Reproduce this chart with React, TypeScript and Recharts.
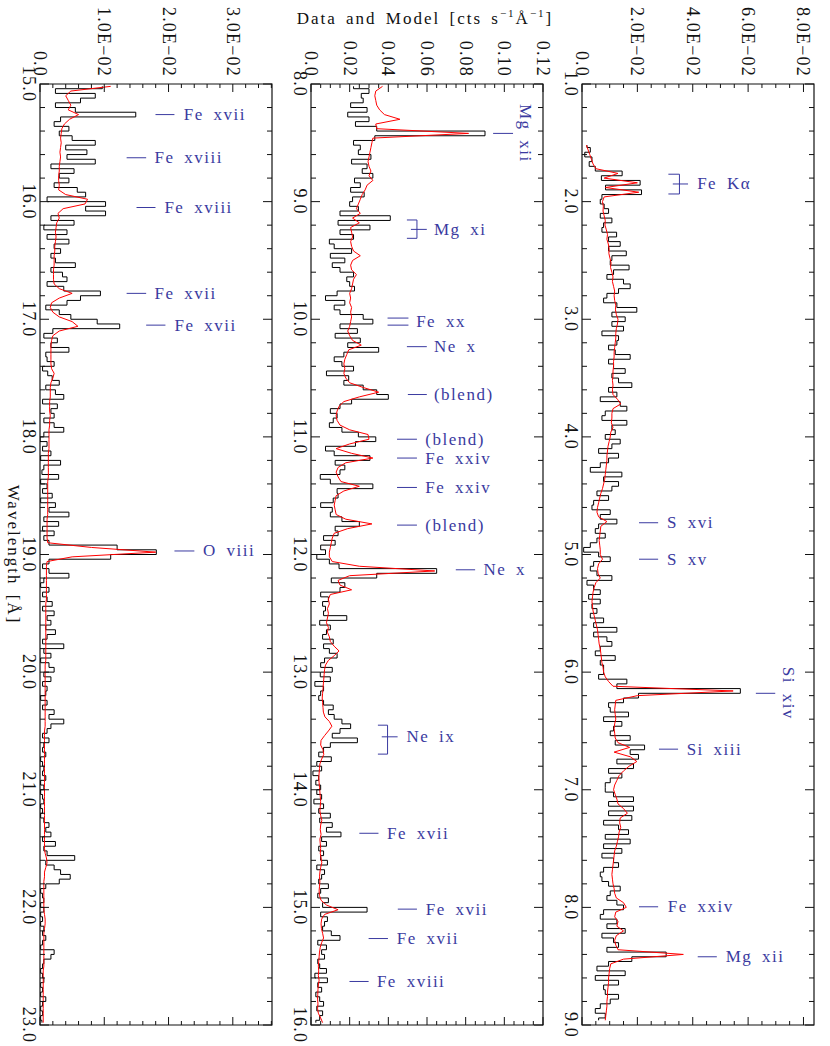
import React from "react";
import {
  LineChart,
  Line,
  XAxis,
  YAxis,
  ReferenceLine,
  ReferenceDot,
  ReferenceArea,
} from "recharts";

const FONT = "'Liberation Serif', 'Times New Roman', serif";
const BLUE = "#3a3aa0";
const INK = "#111";
const BIN = 0.04;
const CHART_W = 1046;
const CHART_H = 278;
const PLOT_W = 941;
const PLOT_H = 232;

// flux values in units of 1e-4 cts/s/A, one per 0.04 A bin (first centre given)
const p1Start = 1.52;
const p1Data = [
  18, 30, 10, 36, 26, 48, 145, 70, 210, 85, 215, 72,
  66, 80, 96, 66, 108, 78, 72, 125, 96, 138, 96, 160, 108, 102, 170, 114, 90, 150, 174, 132, 90, 78, 126, 198, 108,
  156, 108, 150, 72, 132, 126, 96, 120, 174, 96, 114, 156, 108, 132, 180, 96, 126, 66, 138, 162, 84, 72, 162, 108, 120,
  84, 138, 108, 60, 132, 96, 66, 30, 144, 78, 132, 108, 54, 96, 42, 36, 102, 66, 126, 60, 48, 84, 54, 30, 6,
  60, 102, 42, 30, 54, 108, 18, 42, 66, 24, 66, 36, 54, 30, 78, 42, 126, 42, 90, 108, 66, 48, 120, 66, 78,
  78, 60, 162, 126, 572, 204, 150, 96, 102, 168, 78, 144, 114, 102, 174, 120, 226, 174, 204, 126, 186, 96, 144, 102, 84,
  84, 114, 186, 96, 186, 96, 180, 78, 132, 168, 84, 174, 78, 144, 72, 114, 132, 78, 66, 72, 96, 138, 102, 90, 126,
  150, 78, 66, 126, 90, 156, 72, 114, 132, 90, 304, 180, 96, 54, 156, 48, 132, 78, 84, 132, 102, 66, 48, 84, 60,
];
const p1Model = [
  16, 22, 28, 34, 40, 50, 130, 80, 200, 85, 205, 80,
  74, 77, 76, 80, 84, 83, 88, 92, 90, 95, 98, 97, 101, 105, 103, 108, 112, 110, 114, 118, 116, 118, 122, 121, 124,
  130, 128, 124, 122, 122, 120, 118, 116, 116, 114, 114, 112, 112, 110, 112, 110, 112, 128, 140, 112, 108, 108, 106, 112, 104,
  102, 98, 94, 92, 90, 90, 88, 86, 84, 82, 78, 74, 68, 64, 60, 56, 54, 60, 90, 68, 66, 64, 62, 64, 66,
  66, 74, 60, 56, 58, 66, 50, 44, 40, 38, 36, 38, 40, 44, 48, 52, 56, 58, 60, 62, 66, 68, 70, 72, 76,
  78, 84, 96, 112, 546, 200, 122, 120, 118, 120, 122, 118, 116, 118, 120, 130, 172, 116, 175, 198, 170, 150, 134, 126, 118,
  114, 120, 126, 130, 150, 164, 138, 136, 140, 134, 132, 128, 124, 118, 116, 114, 112, 110, 108, 110, 112, 116, 118, 124, 150,
  160, 122, 118, 130, 126, 150, 124, 118, 122, 130, 366, 150, 104, 100, 98, 96, 96, 94, 92, 92, 90, 90, 88, 86, 84,
];

const p2Start = 8.02;
const p2Data = [
  220, 300, 260, 270, 205, 290, 190, 300, 230, 340, 900, 330, 220, 255, 245, 310, 210, 290, 265, 320, 225, 255, 205, 275, 215,
  200, 245, 150, 410, 140, 305, 150, 220, 95, 120, 210, 100, 175, 110, 150, 220, 185, 200, 225, 135, 75, 175, 120, 150, 270,
  320, 150, 240, 125, 255, 190, 350, 170, 120, 160, 220, 80, 195, 170, 270, 340, 400, 210, 150, 100, 135, 115, 95, 160, 245,
  335, 230, 75, 120, 305, 125, 175, 150, 48, 100, 320, 135, 140, 115, 50, 110, 100, 160, 250, 125, 140, 65, 125, 50, 75,
  30, 95, 145, 650, 340, 105, 175, 150, 50, 90, 60, 75, 65, 185, 45, 100, 80, 60, 115, 65, 95, 135, 70, 50, 110,
  48, 100, 20, 65, 50, 40, 65, 115, 90, 120, 160, 205, 150, 110, 240, 100, 65, 40, 105, 30, 55, 10, 40, 25, 50,
  30, 55, 15, 65, 40, 100, 45, 110, 80, 155, 55, 80, 40, 65, 50, 85, 30, 70, 55, 40, 90, 50, 35, 90, 60,
  290, 50, 85, 70, 60, 105, 150, 35, 80, 55, 70, 35, 45, 80, 20, 85, 35, 55, 25, 45, 65, 30, 60, 45, 25,
];
const p2Model = [
  370, 335, 330, 335, 340, 355, 380, 460, 335, 340, 815, 320, 315, 310, 305, 300, 295, 300, 310, 300, 320, 290, 280, 265, 255,
  245, 235, 255, 215, 250, 205, 210, 215, 205, 210, 220, 255, 215, 205, 210, 235, 220, 215, 210, 200, 205, 200, 210, 205, 210,
  205, 200, 190, 200, 215, 260, 195, 185, 175, 170, 175, 170, 180, 200, 270, 350, 250, 170, 145, 135, 130, 135, 150, 200, 295,
  300, 200, 130, 210, 320, 180, 140, 130, 140, 155, 250, 170, 130, 125, 120, 125, 130, 180, 315, 190, 120, 110, 105, 100, 95,
  95, 110, 250, 640, 200, 140, 150, 210, 100, 90, 95, 85, 90, 85, 80, 90, 85, 95, 100, 120, 145, 120, 90, 75, 70,
  68, 66, 64, 62, 60, 58, 60, 62, 64, 72, 95, 108, 90, 70, 52, 50, 62, 66, 55, 46, 44, 42, 40, 42, 44,
  46, 48, 50, 48, 46, 50, 56, 50, 48, 52, 46, 48, 50, 48, 52, 56, 50, 46, 44, 46, 44, 42, 44, 52, 80,
  140, 70, 55, 52, 54, 60, 65, 55, 48, 44, 42, 40, 38, 40, 38, 42, 38, 36, 35, 34, 36, 34, 38, 50, 60,
];

const p3Start = 15.02;
const p3Data = [
  97, 24, 86, 63, 24, 55, 149, 32, 22, 45, 30, 50, 86, 40, 73, 42, 86, 17, 53, 30, 45, 22, 58, 71, 11,
  102, 71, 102, 17, 53, 6, 42, 11, 45, 22, 32, 17, 24, 55, 17, 35, 42, 11, 37, 94, 63, 42, 9, 30, 48,
  89, 124, 20, 6, 27, 17, 45, 9, 11, 22, 4, 12, 19, 30, 9, 24, 37, 4, 27, 17, 22, 6, 22, 37, 6,
  0, 11, 4, 17, 1, 32, 6, 3, 29, 1, 11, 4, 19, 1, 24, 14, 45, 6, 29, 4, 22, 6, 14, 120, 181,
  110, 14, 4, 14, 45, 6, 1, 14, 4, 11, 19, 4, 22, 11, 17, 9, 24, 11, 4, 37, 6, 17, 1, 14, 22,
  6, 17, 4, 11, 9, 1, 11, 4, 22, 14, 37, 17, 11, 4, 14, 6, 4, 9, 1, 4, 6, 4, 9, 1, 6,
  1, 4, 6, 1, 4, 1, 6, 14, 9, 17, 4, 24, 6, 11, 54, 9, 22, 32, 47, 30, 9, 1, 4, 6, 1,
  6, 1, 4, 1, 6, 4, 9, 4, 1, 22, 17, 6, 4, 1, 4, 6, 1, 4, 1, 9, 4, 1, 4, 1, 3,
];
const p3Model = [
  110, 48, 40, 44, 48, 44, 60, 46, 38, 34, 33, 32, 33, 32, 31, 32, 31, 30, 30, 29, 29, 30, 29, 40, 74,
  70, 36, 28, 30, 26, 25, 24, 25, 24, 23, 23, 22, 22, 22, 21, 21, 21, 22, 30, 50, 30, 18, 16, 20, 30,
  50, 59, 30, 20, 18, 17, 17, 17, 17, 17, 18, 22, 20, 17, 16, 16, 16, 15, 15, 15, 16, 15, 15, 14, 14,
  14, 14, 14, 13, 13, 13, 13, 13, 13, 12, 12, 12, 12, 12, 12, 12, 12, 11, 11, 11, 11, 11, 12, 80, 180,
  50, 11, 10, 10, 10, 10, 10, 10, 10, 10, 9, 9, 9, 9, 9, 9, 9, 9, 9, 9, 9, 9, 9, 8, 8,
  8, 8, 8, 8, 8, 8, 8, 8, 8, 8, 8, 8, 7, 7, 7, 7, 7, 7, 7, 7, 7, 7, 7, 7, 7,
  7, 7, 7, 7, 7, 7, 7, 7, 7, 7, 7, 7, 7, 8, 10, 11, 9, 7, 7, 6, 6, 6, 6, 6, 6,
  6, 7, 8, 8, 7, 6, 6, 6, 6, 6, 6, 6, 6, 5, 5, 5, 5, 5, 5, 5, 5, 5, 5, 5, 5,
];

// tick labels
const p1XMajor = [1, 2, 3, 4, 5, 6, 7, 8, 9];
const p1XText = ["1.0", "2.0", "3.0", "4.0", "5.0", "6.0", "7.0", "8.0", "9.0"];
const p1YMajor = [0, 0.02, 0.04, 0.06, 0.08];
const p1YText = ["0.0", "2.0E\u221202", "4.0E\u221202", "6.0E\u221202", "8.0E\u221202"];

const p2XMajor = [8, 9, 10, 11, 12, 13, 14, 15, 16];
const p2XText = ["8.0", "9.0", "10.0", "11.0", "12.0", "13.0", "14.0", "15.0", "16.0"];
const p2YMajor = [0, 0.02, 0.04, 0.06, 0.08, 0.1, 0.12];
const p2YText = ["0.0", "0.02", "0.04", "0.06", "0.08", "0.10", "0.12"];

const p3XMajor = [15, 16, 17, 18, 19, 20, 21, 22, 23];
const p3XText = ["15.0", "16.0", "17.0", "18.0", "19.0", "20.0", "21.0", "22.0", "23.0"];
const p3YMajor = [0, 0.01, 0.02, 0.03];
const p3YText = ["0.0", "1.0E\u221202", "2.0E\u221202", "3.0E\u221202"];

// line identifications: wavelength(s), marker span and text start in flux units
type Mark = { text: string; ws: number[]; lo: number; hi: number; tx: number; tw?: number };
type Bracket = { text: string; w1: number; w2: number; wm: number; lo: number; hi: number; top: number; tx: number };
type TopMark = { text: string; w: number; lo: number; hi: number; ty: number };

const p1Marks: Mark[] = [
  { text: "S xvi", ws: [4.73], lo: 0.0206, hi: 0.0275, tx: 0.0307 },
  { text: "S xv", ws: [5.04], lo: 0.0206, hi: 0.0275, tx: 0.0307 },
  { text: "Si xiii", ws: [6.655], lo: 0.0278, hi: 0.0347, tx: 0.0378 },
  { text: "Fe xxiv", ws: [7.995], lo: 0.0206, hi: 0.0275, tx: 0.031 },
  { text: "Mg xii", ws: [8.42], lo: 0.0418, hi: 0.0487, tx: 0.0519 },
];
const p1Brackets: Bracket[] = [
  { text: "Fe K\u03b1", w1: 1.767, w2: 1.935, wm: 1.85, lo: 0.0312, hi: 0.0352, top: 0.0383, tx: 0.0416 },
];
const p1Tops: TopMark[] = [{ text: "Si xiv", w: 6.18, lo: 0.0628, hi: 0.0698, ty: 0.0727 }];

const p2Marks: Mark[] = [
  { text: "Fe xx", ws: [9.99, 10.05], lo: 0.0396, hi: 0.0504, tx: 0.0544, tw: 10.02 },
  { text: "Ne x", ws: [10.233], lo: 0.0496, hi: 0.0599, tx: 0.0636 },
  { text: "(blend)", ws: [10.64], lo: 0.0501, hi: 0.0599, tx: 0.0636 },
  { text: "(blend)", ws: [11.02], lo: 0.0445, hi: 0.0548, tx: 0.0591 },
  { text: "Fe xxiv", ws: [11.18], lo: 0.0445, hi: 0.0548, tx: 0.0591 },
  { text: "Fe xxiv", ws: [11.43], lo: 0.0445, hi: 0.0548, tx: 0.0591 },
  { text: "(blend)", ws: [11.75], lo: 0.0445, hi: 0.0548, tx: 0.0591 },
  { text: "Ne x", ws: [12.13], lo: 0.0749, hi: 0.0849, tx: 0.0892 },
  { text: "Fe xvii", ws: [14.37], lo: 0.025, hi: 0.0349, tx: 0.0393 },
  { text: "Fe xvii", ws: [15.015], lo: 0.0449, hi: 0.0548, tx: 0.0594 },
  { text: "Fe xvii", ws: [15.265], lo: 0.0298, hi: 0.0398, tx: 0.0444 },
  { text: "Fe xviii", ws: [15.63], lo: 0.0199, hi: 0.0298, tx: 0.0341 },
];
const p2Brackets: Bracket[] = [
  { text: "Mg xi", w1: 9.156, w2: 9.312, wm: 9.236, lo: 0.0496, hi: 0.0548, top: 0.0599, tx: 0.0636 },
  { text: "Ne ix", w1: 13.451, w2: 13.697, wm: 13.55, lo: 0.0346, hi: 0.0396, top: 0.0448, tx: 0.0494 },
];
const p2Tops: TopMark[] = [{ text: "Mg xii", w: 8.42, lo: 0.0942, hi: 0.1045, ty: 0.1082 }];

const p3Marks: Mark[] = [
  { text: "Fe xvii", ws: [15.26], lo: 0.01797, hi: 0.02092, tx: 0.02236 },
  { text: "Fe xviii", ws: [15.627], lo: 0.01348, hi: 0.01652, tx: 0.01781 },
  { text: "Fe xviii", ws: [16.05], lo: 0.01502, hi: 0.01797, tx: 0.01936 },
  { text: "Fe xvii", ws: [16.78], lo: 0.01348, hi: 0.01652, tx: 0.01781 },
  { text: "Fe xvii", ws: [17.05], lo: 0.01652, hi: 0.01952, tx: 0.02092 },
  { text: "O viii", ws: [18.97], lo: 0.02092, hi: 0.02402, tx: 0.02537 },
];

const buildRows = (start: number, data: number[], model: number[]) =>
  data.map((v, i) => ({ w: +(start + i * BIN).toFixed(2), d: v * 1e-4, m: model[i] * 1e-4 }));

const range = (a: number, b: number, step: number) => {
  const n = Math.floor((b - a) / step + 1e-6) + 1;
  return Array.from({ length: n }, (_, i) => +(a + i * step).toFixed(4));
};

const panels = [
  {
    key: "p1", top: 0, x0: 1, x1: 9, yMax: 0.0838, yStep: 0.005,
    rows: buildRows(p1Start, p1Data, p1Model),
    xMajor: p1XMajor, xText: p1XText, yMajor: p1YMajor, yText: p1YText,
    marks: p1Marks, brackets: p1Brackets, tops: p1Tops,
  },
  {
    key: "p2", top: 271.3, x0: 8, x1: 16, yMax: 0.12, yStep: 0.005,
    rows: buildRows(p2Start, p2Data, p2Model),
    xMajor: p2XMajor, xText: p2XText, yMajor: p2YMajor, yText: p2YText,
    marks: p2Marks, brackets: p2Brackets, tops: p2Tops,
  },
  {
    key: "p3", top: 542.3, x0: 15, x1: 23, yMax: 0.0361, yStep: 0.002,
    rows: buildRows(p3Start, p3Data, p3Model),
    xMajor: p3XMajor, xText: p3XText, yMajor: p3YMajor, yText: p3YText,
    marks: p3Marks, brackets: [] as Bracket[], tops: [] as TopMark[],
  },
];

const labelText = {
  fontFamily: FONT,
  fontSize: 17,
  letterSpacing: 1.5,
  wordSpacing: 4,
  fill: BLUE,
};

const VLabel = (cx: number, cy: number, text: string) => (
  <text
    x={cx}
    y={cy}
    transform={`rotate(-90 ${cx} ${cy})`}
    textAnchor="start"
    dominantBaseline="central"
    {...labelText}
  >
    {text}
  </text>
);

const HLabel = (cx: number, cy: number, text: string) => (
  <text x={cx} y={cy} textAnchor="middle" {...labelText}>
    {text}
  </text>
);

const findMajor = (list: number[], v: number) => list.findIndex((m) => Math.abs(m - v) < 1e-6);

function Panel({ cfg }: { cfg: (typeof panels)[number] }) {
  const xTicks = range(cfg.x0, cfg.x1, 0.2);
  const yTicks = range(0, cfg.yMax, cfg.yStep);

  const xTick = (p: any) => {
    const idx = findMajor(cfg.xMajor, p.payload.value);
    const len = idx >= 0 ? 9 : 5;
    return (
      <g>
        <line x1={p.x} y1={p.y} x2={p.x} y2={p.y - len} stroke={INK} />
        <line x1={p.x} y1={p.y - PLOT_H} x2={p.x} y2={p.y - PLOT_H + len} stroke={INK} />
        {idx >= 0 && (
          <text x={p.x} y={p.y + 17.5} textAnchor="middle" fontFamily={FONT} fontSize={18} letterSpacing={1.2} fill={INK}>
            {cfg.xText[idx]}
          </text>
        )}
      </g>
    );
  };

  const yTick = (p: any) => {
    const idx = findMajor(cfg.yMajor, p.payload.value);
    const len = idx >= 0 ? 8 : 4;
    return (
      <g>
        <line x1={p.x} y1={p.y} x2={p.x + len} y2={p.y} stroke={INK} />
        <line x1={p.x + PLOT_W} y1={p.y} x2={p.x + PLOT_W - len} y2={p.y} stroke={INK} />
        {idx >= 0 && (
          <text x={p.x - 7} y={p.y} textAnchor="end" dominantBaseline="central" fontFamily={FONT} fontSize={18} letterSpacing={1.2} fill={INK}>
            {cfg.yText[idx]}
          </text>
        )}
      </g>
    );
  };

  return (
    <div style={{ position: "absolute", left: 0, top: cfg.top, width: CHART_W, height: CHART_H }}>
      <LineChart width={CHART_W} height={CHART_H} data={cfg.rows} margin={{ top: 16, right: 21, bottom: 0, left: 0 }}>
        <XAxis
          type="number"
          dataKey="w"
          domain={[cfg.x0, cfg.x1]}
          allowDataOverflow
          ticks={xTicks}
          interval={0}
          height={30}
          tickSize={0}
          tickMargin={0}
          tickLine={false}
          axisLine={false}
          tick={xTick}
        />
        <YAxis
          type="number"
          domain={[0, cfg.yMax]}
          allowDataOverflow
          ticks={yTicks}
          interval={0}
          width={84}
          tickSize={0}
          tickMargin={0}
          tickLine={false}
          axisLine={false}
          tick={yTick}
        />
        <Line type="step" dataKey="d" stroke="#000" strokeWidth={1} dot={false} activeDot={false} isAnimationActive={false} />
        <Line type="linear" dataKey="m" stroke="#ff0000" strokeWidth={1} dot={false} activeDot={false} isAnimationActive={false} />
        <ReferenceArea x1={cfg.x0} x2={cfg.x1} y1={0} y2={cfg.yMax} fill="none" stroke={INK} strokeWidth={1.2} />

        {cfg.marks.map((a, i) =>
          a.ws.map((w, j) => (
            <ReferenceLine key={`ml${i}-${j}`} segment={[{ x: w, y: a.lo }, { x: w, y: a.hi }]} stroke={BLUE} strokeWidth={1} />
          ))
        )}
        {cfg.marks.map((a, i) => (
          <ReferenceDot
            key={`mt${i}`}
            x={a.tw ?? a.ws[0]}
            y={a.tx}
            r={0}
            shape={(p: any) => VLabel(p.cx, p.cy, a.text)}
          />
        ))}

        {cfg.brackets.map((b, i) => (
          <ReferenceLine key={`b1${i}`} segment={[{ x: b.w1, y: b.lo }, { x: b.w1, y: b.hi }]} stroke={BLUE} />
        ))}
        {cfg.brackets.map((b, i) => (
          <ReferenceLine key={`b2${i}`} segment={[{ x: b.w2, y: b.lo }, { x: b.w2, y: b.hi }]} stroke={BLUE} />
        ))}
        {cfg.brackets.map((b, i) => (
          <ReferenceLine key={`b3${i}`} segment={[{ x: b.w1, y: b.hi }, { x: b.w2, y: b.hi }]} stroke={BLUE} />
        ))}
        {cfg.brackets.map((b, i) => (
          <ReferenceLine key={`b4${i}`} segment={[{ x: b.wm, y: b.lo + (b.hi - b.lo) * 0.4 }, { x: b.wm, y: b.top }]} stroke={BLUE} />
        ))}
        {cfg.brackets.map((b, i) => (
          <ReferenceDot key={`bt${i}`} x={b.wm} y={b.tx} r={0} shape={(p: any) => VLabel(p.cx, p.cy, b.text)} />
        ))}

        {cfg.tops.map((t, i) => (
          <ReferenceLine key={`tl${i}`} segment={[{ x: t.w, y: t.lo }, { x: t.w, y: t.hi }]} stroke={BLUE} />
        ))}
        {cfg.tops.map((t, i) => (
          <ReferenceDot key={`tt${i}`} x={t.w} y={t.ty} r={0} shape={(p: any) => HLabel(p.cx, p.cy, t.text)} />
        ))}
      </LineChart>
    </div>
  );
}

const titleStyle = { fontFamily: FONT, fontSize: 17, letterSpacing: 2, wordSpacing: 3, fill: INK };

export default function App() {
  return (
    <div style={{ position: "absolute", left: 0, top: 0, width: 830, height: 1046, overflow: "hidden", background: "#fff" }}>
      <style>{"body{margin:0;overflow:hidden}"}</style>
      <div
        style={{
          position: "absolute",
          left: 0,
          top: 0,
          width: CHART_W,
          height: 830,
          transformOrigin: "0 0",
          transform: "translate(830px, 0px) rotate(90deg)",
        }}
      >
        {panels.map((cfg) => (
          <Panel key={cfg.key} cfg={cfg} />
        ))}
        <svg width={CHART_W} height={830} style={{ position: "absolute", left: 0, top: 0, pointerEvents: "none" }}>
          <text transform="translate(24,405) rotate(-90)" textAnchor="middle" {...titleStyle}>
            Data and Model [cts s
            <tspan dy={-7} fontSize={11}>{"\u22121"}</tspan>
            <tspan dy={7}>Å</tspan>
            <tspan dy={-7} fontSize={11}>{"\u22121"}</tspan>
            <tspan dy={7}>]</tspan>
          </text>
          <text x={554.5} y={822} textAnchor="middle" {...titleStyle}>
            Wavelength [Å]
          </text>
        </svg>
      </div>
    </div>
  );
}
